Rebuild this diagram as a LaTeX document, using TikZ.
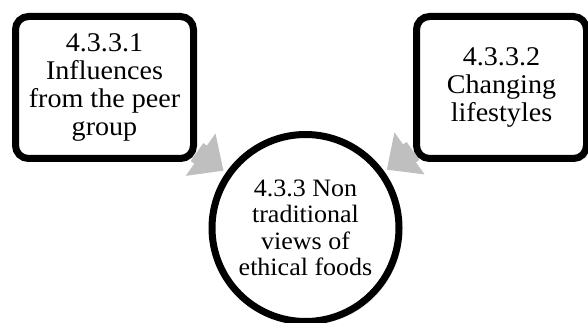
\documentclass[tikz,border=0pt]{standalone}
\usepackage{fontspec}
\setmainfont[FakeStretch=1.04]{Liberation Serif}
\usetikzlibrary{arrows.meta,shadows,backgrounds}
\definecolor{arrowgrey}{RGB}{191,191,191}

\begin{document}
\begin{tikzpicture}[x=1pt,y=-1pt,
  box/.style={draw, line width=7pt, rounded corners=13pt, fill=white, align=center, inner sep=0pt,
    drop shadow={opacity=0.3, shadow xshift=3pt, shadow yshift=-3pt},
    font=\fontsize{27}{28}\selectfont},
  ring/.style={draw, circle, line width=7pt, fill=white, align=center, inner sep=0pt, minimum size=187pt,
    drop shadow={opacity=0.3, shadow xshift=3pt, shadow yshift=-3pt},
    font=\fontsize{25}{26.5}\selectfont},
  feed/.style={arrowgrey, line width=22pt, -{Triangle[length=28pt,width=50pt]}, shorten >=3pt}]
\useasboundingbox (0,0) rectangle (588,323);

% Top: the two influences
\node[box, minimum width=178pt, minimum height=142pt] (peer) at (104.5,87.5) {4.3.3.1\\Influences\\from the peer\\group};
\node[box, minimum width=170pt, minimum height=142pt] (life) at (501.5,87.5) {4.3.3.2\\Changing\\lifestyles};

% Bottom: the circle
\node[ring] (views) at (305.5,228) {4.3.3 Non\\traditional\\views of\\ethical foods};

% Arrows, behind the shapes
\begin{scope}[on background layer]
\draw[feed] (peer) -- (views);
\draw[feed] (life) -- (views);
\end{scope}
\end{tikzpicture}
\end{document}
